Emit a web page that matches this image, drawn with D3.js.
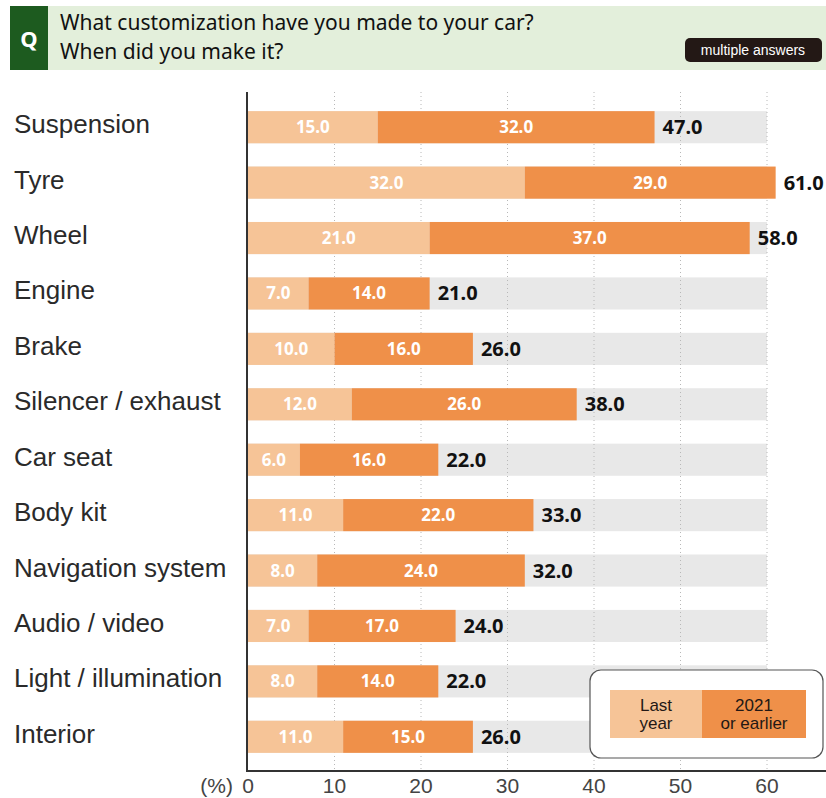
<!DOCTYPE html>
<html>
<head>
<meta charset="utf-8">
<script src="https://cdn.jsdelivr.net/npm/d3@7"></script>
<style>
  body { margin: 0; background: #fff; }
  svg { display: block; }
</style>
</head>
<body>
<div id="chart"></div>
<script>
var categories = ['Suspension', 'Tyre', 'Wheel', 'Engine', 'Brake', 'Silencer / exhaust',
    'Car seat', 'Body kit', 'Navigation system', 'Audio / video', 'Light / illumination', 'Interior'];
var lastYear = [15, 32, 21, 7, 10, 12, 6, 11, 8, 7, 8, 11];
var earlier = [32, 29, 37, 14, 16, 26, 16, 22, 24, 17, 14, 15];
var totals = [47, 61, 58, 21, 26, 38, 22, 33, 32, 24, 22, 26];
var ticks = [0, 10, 20, 30, 40, 50, 60];
var seriesNames = [['Last', 'year'], ['2021', 'or earlier']];
var colors = { last: '#f6c497', early: '#ef9049', bg: '#e8e8e8' };

function drawChart() {
    var width = 826, height = 798;
    var svg = d3.select('#chart').append('svg')
        .attr('width', width)
        .attr('height', height);

    // header
    svg.append('rect').attr('x', 10).attr('y', 6).attr('width', 816).attr('height', 64).attr('fill', '#e3efdb');
    svg.append('rect').attr('x', 10).attr('y', 6).attr('width', 38).attr('height', 64).attr('fill', '#1d5b1f');
    svg.append('text').attr('x', 29).attr('y', 47).attr('text-anchor', 'middle')
        .style('font', 'bold 22px "Noto Sans", sans-serif').style('fill', '#fff').text('Q');
    svg.append('text').attr('x', 60).attr('y', 30)
        .style('font', '21px "Noto Sans", sans-serif').style('fill', '#111')
        .text('What customization have you made to your car?');
    svg.append('text').attr('x', 60).attr('y', 59)
        .style('font', '21px "Noto Sans", sans-serif').style('fill', '#111')
        .text('When did you make it?');
    svg.append('rect').attr('x', 685).attr('y', 38).attr('width', 137).attr('height', 24).attr('rx', 5)
        .attr('fill', '#231815');
    svg.append('text').attr('x', 753).attr('y', 55).attr('text-anchor', 'middle')
        .style('font', '14px "Liberation Sans", sans-serif').style('fill', '#fff')
        .text('multiple answers');

    var x = d3.scaleLinear().domain([0, 60]).range([248, 767]);
    var y = d3.scaleBand().domain(categories).range([99.5, 764.5]).paddingInner(0.42).paddingOuter(0.21);
    var bw = y.bandwidth();

    // gray backgrounds
    svg.append('g').selectAll('rect').data(categories).enter().append('rect')
        .attr('x', x(0)).attr('y', function (d) { return y(d); })
        .attr('width', x(60) - x(0)).attr('height', bw)
        .attr('fill', colors.bg);

    // grid
    svg.append('g').selectAll('line').data(ticks.slice(1)).enter().append('line')
        .attr('x1', function (d) { return x(d); }).attr('x2', function (d) { return x(d); })
        .attr('y1', 92).attr('y2', 771)
        .attr('stroke', '#b8b8b8').attr('stroke-width', 1).attr('stroke-dasharray', '1,3');

    var rows = svg.append('g').selectAll('g').data(categories).enter().append('g')
        .attr('transform', function (d) { return 'translate(0,' + y(d) + ')'; });

    rows.append('rect')
        .attr('x', x(0))
        .attr('width', function (d, i) { return x(lastYear[i]) - x(0); })
        .attr('height', bw).attr('fill', colors.last);
    rows.append('rect')
        .attr('x', function (d, i) { return x(lastYear[i]); })
        .attr('width', function (d, i) { return x(lastYear[i] + earlier[i]) - x(lastYear[i]); })
        .attr('height', bw).attr('fill', colors.early);

    rows.append('text')
        .attr('x', function (d, i) { return (x(0) + x(lastYear[i])) / 2; })
        .attr('y', bw / 2 + 6).attr('text-anchor', 'middle')
        .style('font', 'bold 17px "Noto Sans", sans-serif').style('fill', '#fff')
        .text(function (d, i) { return lastYear[i].toFixed(1); });
    rows.append('text')
        .attr('x', function (d, i) { return (x(lastYear[i]) + x(lastYear[i] + earlier[i])) / 2; })
        .attr('y', bw / 2 + 6).attr('text-anchor', 'middle')
        .style('font', 'bold 17px "Noto Sans", sans-serif').style('fill', '#fff')
        .text(function (d, i) { return earlier[i].toFixed(1); });
    rows.append('text')
        .attr('x', function (d, i) { return x(totals[i]) + 8; })
        .attr('y', bw / 2 + 7)
        .style('font', 'bold 20px "Noto Sans", sans-serif').style('fill', '#111')
        .text(function (d, i) { return totals[i].toFixed(1); });

    // category labels
    rows.append('text')
        .attr('x', 14).attr('y', bw / 2 + 6)
        .style('font', '26px "Liberation Sans", sans-serif').style('fill', '#2a2a2a')
        .text(function (d) { return d; });

    // axes lines
    svg.append('line').attr('x1', 247).attr('x2', 247).attr('y1', 92).attr('y2', 772)
        .attr('stroke', '#333').attr('stroke-width', 2);
    svg.append('line').attr('x1', 246).attr('x2', 826).attr('y1', 771).attr('y2', 771)
        .attr('stroke', '#333').attr('stroke-width', 2);

    svg.append('g').selectAll('text').data(ticks).enter().append('text')
        .attr('x', function (d) { return x(d); }).attr('y', 793).attr('text-anchor', 'middle')
        .style('font', '21px "Liberation Sans", sans-serif').style('fill', '#444')
        .text(function (d) { return d; });
    svg.append('text').attr('x', 233).attr('y', 793).attr('text-anchor', 'end')
        .style('font', '21px "Liberation Sans", sans-serif').style('fill', '#444').text('(%)');

    // legend
    var lg = svg.append('g');
    lg.append('rect').attr('x', 590).attr('y', 670).attr('width', 233).attr('height', 88).attr('rx', 11)
        .attr('fill', '#fff').attr('stroke', '#555').attr('stroke-width', 1.2);
    var lx = [610, 702, 806];
    var lc = [colors.last, colors.early];
    seriesNames.forEach(function (n, i) {
        lg.append('rect').attr('x', lx[i]).attr('y', 690).attr('width', lx[i + 1] - lx[i]).attr('height', 48)
            .attr('fill', lc[i]);
        n.forEach(function (t, j) {
            lg.append('text').attr('x', (lx[i] + lx[i + 1]) / 2).attr('y', 711 + j * 18)
                .attr('text-anchor', 'middle')
                .style('font', '17px "Liberation Sans", sans-serif').style('fill', '#231815')
                .text(t);
        });
    });
}
drawChart();
</script>
</body>
</html>
